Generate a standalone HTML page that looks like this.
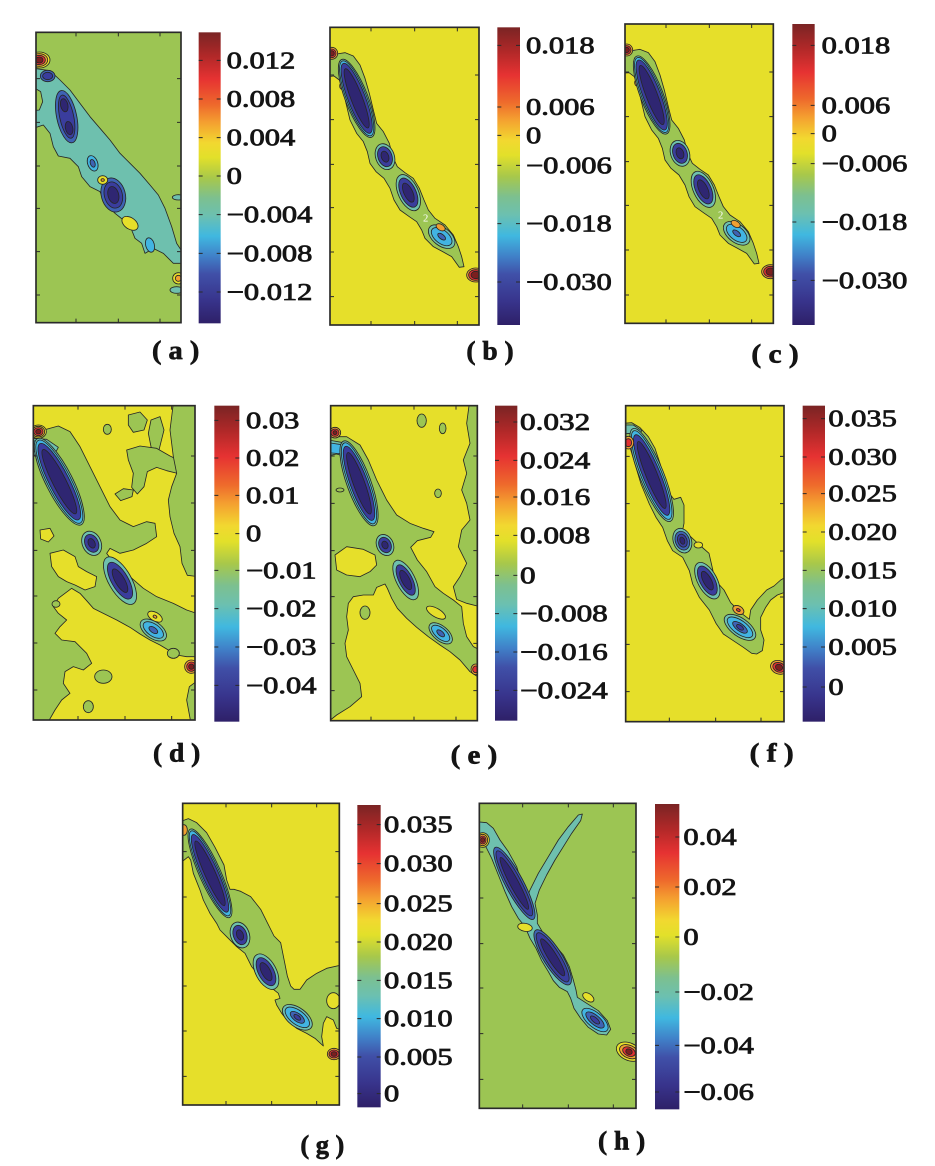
<!DOCTYPE html>
<html><head><meta charset="utf-8">
<style>
html,body{margin:0;padding:0;background:#fff;}
svg{display:block;}
text{font-family:"Liberation Serif","Times New Roman",serif;fill:#141414;}
.lb{font-size:72px;stroke:#141414;stroke-width:2.4px;}
.pl{font-size:78px;stroke:#141414;stroke-width:2px;font-weight:bold;}
.p polygon,.p ellipse,.p path.c{stroke:#262626;stroke-width:2.5;stroke-linejoin:round;}
.Y{fill:#E6DF2A}.G{fill:#9CC553}.T{fill:#6EC0AE}.L{fill:#42B4E2}.B{fill:#3E63B4}.D{fill:#3A3D9D}.N{fill:#2F2672}.O{fill:#F0A032}.R{fill:#E13232}.K{fill:#7B1F1F}
.fr{fill:none;stroke:#2a2a2a;stroke-width:5;}
.tk{fill:none;stroke:#2a2a2a;stroke-width:3;}
</style></head><body>
<svg width="935" height="1166" viewBox="0 0 935 1166" xmlns="http://www.w3.org/2000/svg">
<defs>
<linearGradient id="cm" x1="0" y1="0" x2="0" y2="1">
<stop offset="0" stop-color="#7A2424"/>
<stop offset="0.08" stop-color="#B02828"/>
<stop offset="0.16" stop-color="#E63232"/>
<stop offset="0.25" stop-color="#EE6A2C"/>
<stop offset="0.31" stop-color="#F4A030"/>
<stop offset="0.38" stop-color="#F2D830"/>
<stop offset="0.43" stop-color="#E2E02A"/>
<stop offset="0.50" stop-color="#A8C84A"/>
<stop offset="0.57" stop-color="#7CC090"/>
<stop offset="0.63" stop-color="#6CC0B0"/>
<stop offset="0.70" stop-color="#40B8E0"/>
<stop offset="0.77" stop-color="#4080C8"/>
<stop offset="0.83" stop-color="#4050A8"/>
<stop offset="0.92" stop-color="#38348C"/>
<stop offset="1" stop-color="#2E2068"/>
</linearGradient>
<clipPath id="ca"><rect x="108" y="97" width="435" height="871"/></clipPath>
<clipPath id="cb"><rect x="60" y="82" width="447" height="893"/></clipPath>
<clipPath id="cc"><rect x="45" y="72" width="445" height="898"/></clipPath>
<clipPath id="cd"><rect x="100" y="47" width="485" height="943"/></clipPath>
<clipPath id="ce"><rect x="62" y="47" width="440" height="945"/></clipPath>
<clipPath id="cf"><rect x="47" y="47" width="475" height="948"/></clipPath>
<clipPath id="cg"><rect x="68" y="40" width="470" height="905"/></clipPath>
<clipPath id="ch"><rect x="88" y="40" width="470" height="915"/></clipPath>
</defs>

<!-- ================= (a) ================= -->
<g class="p" transform="translate(0,0) scale(0.333333)">
<g clip-path="url(#ca)">
<rect x="108" y="97" width="435" height="871" class="G"/>
<polygon class="T" points="100,205 150,212 180,240 210,270 240,310 270,350 300,385 330,420 360,460 390,490 420,520 450,555 475,585 495,625 515,680 530,730 550,760 550,790 520,790 490,760 460,745 435,760 425,730 405,715 395,690 370,660 345,640 315,610 300,575 270,560 245,530 235,500 210,475 175,468 160,440 150,400 130,375 100,385"/>
<polygon class="G" points="100,262 122,275 128,305 118,330 100,332"/>
<ellipse class="T" cx="535" cy="592" rx="18" ry="8"/>
<ellipse class="T" cx="530" cy="870" rx="20" ry="10"/>
<g transform="translate(143,228)"><ellipse class="B" rx="22" ry="17"/><ellipse class="D" rx="15" ry="11"/></g>
<g transform="translate(200,350) rotate(-12)"><ellipse class="B" rx="30" ry="80"/><ellipse class="D" rx="21" ry="66"/><ellipse class="N" cx="0" cy="-35" rx="11" ry="20"/><ellipse class="N" cx="0" cy="35" rx="11" ry="20"/></g>
<g transform="translate(278,490) rotate(-20)"><ellipse class="L" rx="15" ry="24"/><ellipse class="B" rx="7" ry="12"/></g>
<g transform="translate(340,585) rotate(-15)"><ellipse class="B" rx="36" ry="52"/><ellipse class="D" rx="27" ry="40"/><ellipse class="N" rx="16" ry="26"/></g>
<g transform="translate(450,735) rotate(-15)"><ellipse class="L" rx="13" ry="22"/></g>
<g transform="translate(118,180)"><ellipse class="Y" rx="32" ry="24"/><ellipse class="O" rx="25" ry="19"/><ellipse class="R" rx="18" ry="14"/><ellipse class="K" rx="11" ry="9"/></g>
<g transform="translate(308,540)"><ellipse class="Y" rx="15" ry="13"/><ellipse class="O" rx="5" ry="4"/></g>
<g transform="translate(390,670) rotate(35)"><ellipse class="Y" rx="27" ry="17"/></g>
<g transform="translate(535,835)"><ellipse class="Y" rx="17" ry="17"/><ellipse class="O" rx="9" ry="9"/></g>
</g>
<rect class="fr" x="108" y="97" width="435" height="871"/>
<path class="tk" d="M228,97v12M355,97v12M480,97v12M228,968v-12M355,968v-12M480,968v-12M108,236h12M108,367h12M108,498h12M108,625h12M108,755h12M108,885h12M543,236h-12M543,367h-12M543,498h-12M543,625h-12M543,755h-12M543,885h-12"/>
<rect x="596" y="97" width="66" height="873" fill="url(#cm)"/>
<path class="tk" d="M596,181h12M596,297h12M596,413h12M596,528h12M596,644h12M596,760h12M596,876h12M662,181h-12M662,297h-12M662,413h-12M662,528h-12M662,644h-12M662,760h-12M662,876h-12"/>
<text class="lb" transform="translate(680,205) scale(1.27,1)">0.012</text>
<text class="lb" transform="translate(680,321) scale(1.27,1)">0.008</text>
<text class="lb" transform="translate(680,437) scale(1.27,1)">0.004</text>
<text class="lb" transform="translate(680,552) scale(1.27,1)">0</text>
<text class="lb" transform="translate(680,668) scale(1.27,1)">−0.004</text>
<text class="lb" transform="translate(680,784) scale(1.27,1)">−0.008</text>
<text class="lb" transform="translate(680,900) scale(1.27,1)">−0.012</text>
<text class="pl" x="527" y="1077" text-anchor="middle" textLength="142" lengthAdjust="spacingAndGlyphs">( a )</text>
</g>

<!-- ================= (b) ================= -->
<g class="p" transform="translate(310,0) scale(0.333333)">
<g clip-path="url(#cb)">
<rect x="60" y="82" width="447" height="893" class="Y"/>
<polygon class="G" points="52,175 80,162 105,158 130,168 150,195 165,235 178,280 190,330 200,370 220,395 238,430 248,470 262,500 285,518 310,535 328,565 342,600 355,630 375,655 405,675 430,705 445,740 455,770 462,800 448,802 425,770 398,755 370,740 345,715 335,690 320,665 298,650 270,630 252,600 240,565 222,535 198,515 180,490 172,455 160,425 140,400 120,360 108,310 98,265 88,240 72,228 52,230"/>
<ellipse class="O" cx="96" cy="258" rx="7" ry="10"/>
<g transform="translate(140,295) rotate(-21)"><ellipse class="T" rx="34" ry="125"/><ellipse class="L" rx="30" ry="120"/><ellipse class="D" rx="26" ry="112"/><ellipse class="N" rx="17" ry="95"/></g>
<g transform="translate(225,470) rotate(-20)"><ellipse class="T" rx="28" ry="40"/><ellipse class="D" rx="21" ry="31"/><ellipse class="N" rx="11" ry="17"/></g>
<g transform="translate(295,578) rotate(-25)"><ellipse class="T" rx="30" ry="58"/><ellipse class="D" rx="23" ry="47"/><ellipse class="N" rx="13" ry="31"/></g>
<g transform="translate(395,710) rotate(38)"><ellipse class="T" rx="46" ry="27"/><ellipse class="L" rx="36" ry="20"/><ellipse class="B" rx="14" ry="7"/></g>
<g transform="translate(65,160)"><ellipse class="O" rx="18" ry="18"/><ellipse class="R" rx="13" ry="13"/><ellipse class="K" rx="8" ry="8"/></g>
<g transform="translate(497,825)"><ellipse class="O" rx="27" ry="21"/><ellipse class="R" rx="21" ry="16"/><ellipse class="K" rx="14" ry="11"/></g>
<g transform="translate(392,682) rotate(30)"><ellipse class="O" rx="15" ry="9"/></g>
<text x="347" y="665" font-size="32" text-anchor="middle" style="fill:#fff">2</text>
</g>
<rect class="fr" x="60" y="82" width="447" height="893"/>
<path class="tk" d="M183,82v12M314,82v12M442,82v12M183,975v-12M314,975v-12M442,975v-12M60,225h12M60,359h12M60,493h12M60,623h12M60,756h12M60,890h12M507,225h-12M507,359h-12M507,493h-12M507,623h-12M507,756h-12M507,890h-12"/>
<rect x="562" y="82" width="68" height="893" fill="url(#cm)"/>
<path class="tk" d="M562,136h12M562,321h12M562,406h12M562,496h12M562,671h12M562,846h12M630,136h-12M630,321h-12M630,406h-12M630,496h-12M630,671h-12M630,846h-12"/>
<text class="lb" transform="translate(648,160) scale(1.27,1)">0.018</text>
<text class="lb" transform="translate(648,345) scale(1.27,1)">0.006</text>
<text class="lb" transform="translate(648,430) scale(1.27,1)">0</text>
<text class="lb" transform="translate(648,520) scale(1.27,1)">−0.006</text>
<text class="lb" transform="translate(648,695) scale(1.27,1)">−0.018</text>
<text class="lb" transform="translate(648,870) scale(1.27,1)">−0.030</text>
<text class="pl" x="540" y="1079" text-anchor="middle" textLength="142" lengthAdjust="spacingAndGlyphs">( b )</text>
</g>

<!-- ================= (c) ================= -->
<g class="p" transform="translate(610,0) scale(0.333333)">
<g clip-path="url(#cc)">
<rect x="45" y="72" width="445" height="898" class="Y"/>
<g transform="translate(-15,-10)">
<polygon class="G" points="52,175 80,162 105,158 130,168 150,195 165,235 178,280 190,330 200,370 220,395 238,430 248,470 262,500 285,518 310,535 328,565 342,600 355,630 375,655 405,675 430,705 445,740 455,770 462,800 448,802 425,770 398,755 370,740 345,715 335,690 320,665 298,650 270,630 252,600 240,565 222,535 198,515 180,490 172,455 160,425 140,400 120,360 108,310 98,265 88,240 72,228 52,230"/>
<ellipse class="O" cx="96" cy="258" rx="7" ry="10"/>
<g transform="translate(140,295) rotate(-21)"><ellipse class="T" rx="34" ry="125"/><ellipse class="L" rx="30" ry="120"/><ellipse class="D" rx="26" ry="112"/><ellipse class="N" rx="17" ry="95"/></g>
<g transform="translate(225,470) rotate(-20)"><ellipse class="T" rx="28" ry="40"/><ellipse class="D" rx="21" ry="31"/><ellipse class="N" rx="11" ry="17"/></g>
<g transform="translate(295,578) rotate(-25)"><ellipse class="T" rx="30" ry="58"/><ellipse class="D" rx="23" ry="47"/><ellipse class="N" rx="13" ry="31"/></g>
<g transform="translate(395,710) rotate(38)"><ellipse class="T" rx="46" ry="27"/><ellipse class="L" rx="36" ry="20"/><ellipse class="B" rx="14" ry="7"/></g>
<g transform="translate(65,160)"><ellipse class="O" rx="18" ry="18"/><ellipse class="R" rx="13" ry="13"/><ellipse class="K" rx="8" ry="8"/></g>
<g transform="translate(497,825)"><ellipse class="O" rx="27" ry="21"/><ellipse class="R" rx="21" ry="16"/><ellipse class="K" rx="14" ry="11"/></g>
<g transform="translate(392,682) rotate(30)"><ellipse class="O" rx="15" ry="9"/></g>
<text x="347" y="665" font-size="32" text-anchor="middle" style="fill:#fff">2</text>
</g>
</g>
<rect class="fr" x="45" y="72" width="445" height="898"/>
<path class="tk" d="M168,72v12M298,72v12M425,72v12M168,970v-12M298,970v-12M425,970v-12M45,216h12M45,350h12M45,485h12M45,616h12M45,750h12M45,885h12M490,216h-12M490,350h-12M490,485h-12M490,616h-12M490,750h-12M490,885h-12"/>
<rect x="547" y="72" width="67" height="903" fill="url(#cm)"/>
<path class="tk" d="M547,136h12M547,316h12M547,401h12M547,491h12M547,666h12M547,841h12M614,136h-12M614,316h-12M614,401h-12M614,491h-12M614,666h-12M614,841h-12"/>
<text class="lb" transform="translate(635,160) scale(1.27,1)">0.018</text>
<text class="lb" transform="translate(635,340) scale(1.27,1)">0.006</text>
<text class="lb" transform="translate(635,425) scale(1.27,1)">0</text>
<text class="lb" transform="translate(635,515) scale(1.27,1)">−0.006</text>
<text class="lb" transform="translate(635,690) scale(1.27,1)">−0.018</text>
<text class="lb" transform="translate(635,865) scale(1.27,1)">−0.030</text>
<text class="pl" x="495" y="1087" text-anchor="middle" textLength="142" lengthAdjust="spacingAndGlyphs">( c )</text>
</g>

<!-- ================= (d) ================= -->
<g class="p" transform="translate(0,390) scale(0.333333)">
<g clip-path="url(#cd)">
<rect x="100" y="47" width="485" height="943" class="Y"/>
<polygon class="G" points="95,130 175,108 210,125 240,170 270,230 300,290 330,350 360,390 400,410 440,395 465,400 470,440 440,460 400,480 360,490 330,475 320,490 350,530 390,560 430,595 470,620 520,640 560,660 590,670 590,800 560,800 530,795 505,780 480,765 450,750 420,732 390,712 350,690 310,670 280,655 260,632 240,610 215,595 195,610 175,625 160,650 175,670 200,690 180,710 165,730 185,750 225,755 260,790 275,820 250,840 220,830 195,845 190,880 210,910 185,930 165,960 145,995 95,995"/>
<polygon class="Y" points="120,420 150,415 162,438 145,456 122,447"/>
<polygon class="Y" points="150,490 190,480 225,500 235,530 260,545 290,560 285,590 255,600 225,585 200,575 175,560 155,530"/>
<polygon class="G" points="385,75 420,66 442,90 432,120 400,127 385,105"/>
<polygon class="G" points="453,90 480,80 492,120 482,160 472,200 455,180 445,130"/>
<ellipse class="G" cx="322" cy="118" rx="12" ry="15"/>
<polygon class="G" points="380,180 420,168 470,175 510,198 545,215 562,240 540,252 500,242 470,232 442,245 432,290 412,312 395,292 400,250 385,210"/>
<polygon class="G" points="345,312 370,296 400,300 396,320 362,332"/>
<polygon class="G" points="520,40 595,40 595,560 562,556 546,520 540,470 522,430 510,380 505,330 515,290 530,250 520,200 510,120"/>
<ellipse class="G" cx="520" cy="790" rx="18" ry="15"/>
<ellipse class="G" cx="310" cy="860" rx="26" ry="20"/>
<ellipse class="G" cx="265" cy="950" rx="15" ry="18"/>
<polygon class="G" points="595,870 568,890 560,930 572,995 595,995"/>
<ellipse class="G" cx="168" cy="642" rx="12" ry="10"/>
<polygon class="T" points="95,145 140,148 175,172 160,200 125,188 95,198"/>
<polygon class="L" points="95,152 135,156 160,175 140,185 95,185"/>
<g transform="translate(178,275) rotate(-27)"><ellipse class="T" rx="40" ry="145"/><ellipse class="L" rx="35" ry="139"/><ellipse class="D" rx="30" ry="128"/><ellipse class="N" rx="20" ry="108"/></g>
<g transform="translate(275,460) rotate(-25)"><ellipse class="T" rx="28" ry="38"/><ellipse class="D" rx="20" ry="28"/><ellipse class="N" rx="10" ry="15"/></g>
<g transform="translate(360,572) rotate(-30)"><ellipse class="T" rx="34" ry="80"/><ellipse class="D" rx="25" ry="62"/><ellipse class="N" rx="14" ry="40"/></g>
<g transform="translate(460,720) rotate(35)"><ellipse class="T" rx="45" ry="25"/><ellipse class="L" rx="35" ry="18"/><ellipse class="B" rx="15" ry="8"/></g>
<g transform="translate(465,680) rotate(30)"><ellipse class="Y" rx="24" ry="13"/><ellipse class="O" rx="6" ry="4"/></g>
<g transform="translate(115,125)"><ellipse class="Y" rx="24" ry="20"/><ellipse class="O" rx="19" ry="16"/><ellipse class="R" rx="14" ry="12"/><ellipse class="K" rx="8" ry="7"/></g>
<g transform="translate(574,830)"><ellipse class="O" rx="20" ry="20"/><ellipse class="R" rx="14" ry="14"/><ellipse class="K" rx="8" ry="8"/></g>
</g>
<rect class="fr" x="100" y="47" width="485" height="943"/>
<path class="tk" d="M234,47v12M375,47v12M515,47v12M234,990v-12M375,990v-12M515,990v-12M100,198h12M100,339h12M100,481h12M100,618h12M100,759h12M100,900h12M585,198h-12M585,339h-12M585,481h-12M585,618h-12M585,759h-12M585,900h-12"/>
<rect x="643" y="47" width="75" height="948" fill="url(#cm)"/>
<path class="tk" d="M643,91h12M643,204h12M643,316h12M643,431h12M643,541h12M643,656h12M643,771h12M643,886h12M718,91h-12M718,204h-12M718,316h-12M718,431h-12M718,541h-12M718,656h-12M718,771h-12M718,886h-12"/>
<text class="lb" transform="translate(738,115) scale(1.27,1)">0.03</text>
<text class="lb" transform="translate(738,228) scale(1.27,1)">0.02</text>
<text class="lb" transform="translate(738,340) scale(1.27,1)">0.01</text>
<text class="lb" transform="translate(738,455) scale(1.27,1)">0</text>
<text class="lb" transform="translate(738,565) scale(1.27,1)">−0.01</text>
<text class="lb" transform="translate(738,680) scale(1.27,1)">−0.02</text>
<text class="lb" transform="translate(738,795) scale(1.27,1)">−0.03</text>
<text class="lb" transform="translate(738,910) scale(1.27,1)">−0.04</text>
<text class="pl" x="530" y="1114" text-anchor="middle" textLength="142" lengthAdjust="spacingAndGlyphs">( d )</text>
</g>

<!-- ================= (e) ================= -->
<g class="p" transform="translate(310,390) scale(0.333333)">
<g clip-path="url(#ce)">
<rect x="62" y="47" width="440" height="945" class="Y"/>
<polygon class="G" points="55,140 110,140 150,165 175,210 200,270 230,330 260,375 300,400 340,415 372,425 362,442 322,452 302,472 322,510 350,545 375,590 400,610 430,630 455,650 460,700 470,740 490,770 510,780 510,865 480,845 450,810 420,785 390,765 355,740 320,712 290,685 262,655 245,625 232,595 225,582 200,592 190,615 160,615 130,620 115,640 110,680 115,720 105,760 110,800 130,840 150,880 155,920 120,950 80,975 55,995"/>
<polygon class="Y" points="75,495 110,470 160,478 195,495 200,525 180,545 150,560 110,555 80,540"/>
<polygon class="G" points="478,40 510,40 510,650 470,640 440,628 430,590 450,560 470,520 445,470 455,420 480,390 470,340 455,300 470,250 460,210 480,160 470,100"/>
<ellipse class="G" cx="335" cy="92" rx="14" ry="20"/>
<ellipse class="G" cx="398" cy="115" rx="10" ry="16"/>
<ellipse class="G" cx="384" cy="310" rx="10" ry="13"/>
<ellipse class="G" cx="165" cy="668" rx="15" ry="20"/>
<ellipse class="G" cx="90" cy="300" rx="12" ry="6"/>
<g transform="translate(378,668) rotate(30)"><ellipse class="Y" rx="32" ry="13"/></g>
<polygon class="T" points="55,150 100,158 128,185 112,202 80,192 55,197"/>
<polygon class="L" points="55,158 95,164 115,185 100,192 55,188"/>
<g transform="translate(147,280) rotate(-20)"><ellipse class="T" rx="36" ry="135"/><ellipse class="L" rx="31" ry="129"/><ellipse class="D" rx="26" ry="118"/><ellipse class="N" rx="17" ry="98"/></g>
<g transform="translate(225,465) rotate(-25)"><ellipse class="T" rx="25" ry="33"/><ellipse class="D" rx="18" ry="24"/><ellipse class="N" rx="9" ry="12"/></g>
<g transform="translate(287,570) rotate(-27)"><ellipse class="T" rx="28" ry="65"/><ellipse class="D" rx="20" ry="50"/><ellipse class="N" rx="12" ry="32"/></g>
<g transform="translate(392,730) rotate(40)"><ellipse class="T" rx="42" ry="22"/><ellipse class="L" rx="33" ry="16"/><ellipse class="B" rx="14" ry="7"/></g>
<g transform="translate(75,128)"><ellipse class="O" rx="17" ry="16"/><ellipse class="R" rx="12" ry="11"/><ellipse class="K" rx="6" ry="6"/></g>
<g transform="translate(497,838)"><ellipse class="O" rx="14" ry="16"/><ellipse class="R" rx="9" ry="10"/></g>
</g>
<rect class="fr" x="62" y="47" width="440" height="945"/>
<path class="tk" d="M183,47v12M312,47v12M438,47v12M183,992v-12M312,992v-12M438,992v-12M62,198h12M62,340h12M62,482h12M62,620h12M62,760h12M62,902h12M502,198h-12M502,340h-12M502,482h-12M502,620h-12M502,760h-12M502,902h-12"/>
<rect x="555" y="47" width="67" height="945" fill="url(#cm)"/>
<path class="tk" d="M555,96h12M555,211h12M555,321h12M555,436h12M555,556h12M555,671h12M555,786h12M555,901h12M622,96h-12M622,211h-12M622,321h-12M622,436h-12M622,556h-12M622,671h-12M622,786h-12M622,901h-12"/>
<text class="lb" transform="translate(630,120) scale(1.3,1)">0.032</text>
<text class="lb" transform="translate(630,235) scale(1.3,1)">0.024</text>
<text class="lb" transform="translate(630,345) scale(1.3,1)">0.016</text>
<text class="lb" transform="translate(630,460) scale(1.3,1)">0.008</text>
<text class="lb" transform="translate(630,580) scale(1.3,1)">0</text>
<text class="lb" transform="translate(630,695) scale(1.3,1)">−0.008</text>
<text class="lb" transform="translate(630,810) scale(1.3,1)">−0.016</text>
<text class="lb" transform="translate(630,925) scale(1.3,1)">−0.024</text>
<text class="pl" x="492" y="1120" text-anchor="middle" textLength="140" lengthAdjust="spacingAndGlyphs">( e )</text>
</g>

<!-- ================= (f) ================= -->
<g class="p" transform="translate(610,390) scale(0.333333)">
<g clip-path="url(#cf)">
<rect x="47" y="47" width="475" height="948" class="Y"/>
<polygon class="G" points="40,100 65,98 90,113 115,140 135,175 150,220 165,270 178,310 192,328 212,322 222,345 222,400 218,420 242,440 272,468 297,490 305,525 315,570 342,600 362,638 392,668 418,688 422,660 442,630 470,600 492,588 512,570 530,560 530,605 502,615 482,630 467,652 452,682 452,720 462,750 457,782 440,792 425,790 400,772 370,752 340,732 318,700 298,660 268,622 248,582 238,542 218,502 188,482 172,452 158,412 138,382 118,342 93,282 78,232 63,182 53,152 40,148"/>
<polygon class="T" points="40,105 70,105 95,122 85,140 60,130 40,132"/>
<g transform="translate(125,255) rotate(-22)"><ellipse class="T" rx="36" ry="150"/><ellipse class="L" rx="31" ry="143"/><ellipse class="D" rx="26" ry="130"/><ellipse class="N" rx="17" ry="108"/></g>
<g transform="translate(217,452) rotate(-20)"><ellipse class="T" rx="27" ry="38"/><ellipse class="B" rx="21" ry="29"/><ellipse class="D" rx="14" ry="20"/><ellipse class="N" rx="7" ry="11"/></g>
<g transform="translate(292,572) rotate(-28)"><ellipse class="T" rx="29" ry="60"/><ellipse class="D" rx="22" ry="48"/><ellipse class="N" rx="12" ry="31"/></g>
<g transform="translate(390,712) rotate(36)"><ellipse class="T" rx="55" ry="27"/><ellipse class="L" rx="45" ry="20"/><ellipse class="B" rx="26" ry="11"/><ellipse class="D" rx="12" ry="6"/></g>
<g transform="translate(55,158)"><ellipse class="O" rx="16" ry="19"/><ellipse class="R" rx="10" ry="12"/></g>
<g transform="translate(507,832) rotate(20)"><ellipse class="O" rx="26" ry="20"/><ellipse class="R" rx="19" ry="14"/><ellipse class="K" rx="11" ry="9"/></g>
<g transform="translate(385,660) rotate(30)"><ellipse class="O" rx="18" ry="12"/><ellipse class="R" rx="6" ry="4"/></g>
<ellipse class="Y" cx="265" cy="465" rx="13" ry="9"/>
</g>
<rect class="fr" x="47" y="47" width="475" height="948"/>
<path class="tk" d="M178,47v12M317,47v12M453,47v12M178,995v-12M317,995v-12M453,995v-12M47,199h12M47,341h12M47,483h12M47,621h12M47,763h12M47,905h12M522,199h-12M522,341h-12M522,483h-12M522,621h-12M522,763h-12M522,905h-12"/>
<rect x="578" y="47" width="67" height="948" fill="url(#cm)"/>
<path class="tk" d="M578,86h12M578,201h12M578,311h12M578,426h12M578,541h12M578,656h12M578,771h12M578,891h12M645,86h-12M645,201h-12M645,311h-12M645,426h-12M645,541h-12M645,656h-12M645,771h-12M645,891h-12"/>
<text class="lb" transform="translate(655,110) scale(1.27,1)">0.035</text>
<text class="lb" transform="translate(655,225) scale(1.27,1)">0.030</text>
<text class="lb" transform="translate(655,335) scale(1.27,1)">0.025</text>
<text class="lb" transform="translate(655,450) scale(1.27,1)">0.020</text>
<text class="lb" transform="translate(655,565) scale(1.27,1)">0.015</text>
<text class="lb" transform="translate(655,680) scale(1.27,1)">0.010</text>
<text class="lb" transform="translate(655,795) scale(1.27,1)">0.005</text>
<text class="lb" transform="translate(655,915) scale(1.27,1)">0</text>
<text class="pl" x="485" y="1114" text-anchor="middle" textLength="132" lengthAdjust="spacingAndGlyphs">( f )</text>
</g>

<!-- ================= (g) ================= -->
<g class="p" transform="translate(160,790) scale(0.333333)">
<g clip-path="url(#cg)">
<rect x="68" y="40" width="470" height="905" class="Y"/>
<polygon class="G" points="60,95 85,86 110,98 140,128 165,172 192,225 200,270 210,298 222,298 242,304 272,320 302,358 322,398 342,438 362,458 372,508 382,558 392,588 402,598 420,598 440,570 470,550 500,535 545,525 545,720 530,715 520,690 500,680 490,700 485,740 490,768 465,745 440,730 410,715 385,695 365,670 350,645 345,630 360,625 355,610 330,590 300,560 275,530 255,490 230,470 200,440 180,420 170,400 150,370 130,330 120,300 100,250 92,210 85,200 60,220"/>
<ellipse class="Y" cx="520" cy="632" rx="20" ry="24"/>
<g transform="translate(150,250) rotate(-24)"><ellipse class="T" rx="32" ry="145"/><ellipse class="L" rx="28" ry="139"/><ellipse class="D" rx="24" ry="127"/><ellipse class="N" rx="16" ry="106"/></g>
<g transform="translate(240,435) rotate(-20)"><ellipse class="T" rx="28" ry="40"/><ellipse class="D" rx="20" ry="30"/><ellipse class="N" rx="10" ry="16"/></g>
<g transform="translate(318,545) rotate(-28)"><ellipse class="T" rx="31" ry="58"/><ellipse class="D" rx="23" ry="46"/><ellipse class="N" rx="13" ry="30"/></g>
<g transform="translate(412,682) rotate(37)"><ellipse class="T" rx="52" ry="28"/><ellipse class="L" rx="43" ry="21"/><ellipse class="B" rx="25" ry="12"/><ellipse class="D" rx="12" ry="6"/></g>
<ellipse class="O" cx="72" cy="120" rx="10" ry="16"/>
<g transform="translate(522,792)"><ellipse class="O" rx="20" ry="17"/><ellipse class="R" rx="15" ry="12"/><ellipse class="K" rx="9" ry="7"/></g>
</g>
<rect class="fr" x="68" y="40" width="470" height="905"/>
<path class="tk" d="M198,40v12M335,40v12M470,40v12M198,945v-12M335,945v-12M470,945v-12M68,185h12M68,321h12M68,456h12M68,588h12M68,723h12M68,859h12M538,185h-12M538,321h-12M538,456h-12M538,588h-12M538,723h-12M538,859h-12"/>
<rect x="592" y="45" width="70" height="907" fill="url(#cm)"/>
<path class="tk" d="M592,104h12M592,221h12M592,341h12M592,456h12M592,571h12M592,686h12M592,801h12M592,911h12M662,104h-12M662,221h-12M662,341h-12M662,456h-12M662,571h-12M662,686h-12M662,801h-12M662,911h-12"/>
<text class="lb" transform="translate(672,128) scale(1.27,1)">0.035</text>
<text class="lb" transform="translate(672,245) scale(1.27,1)">0.030</text>
<text class="lb" transform="translate(672,365) scale(1.27,1)">0.025</text>
<text class="lb" transform="translate(672,480) scale(1.27,1)">0.020</text>
<text class="lb" transform="translate(672,595) scale(1.27,1)">0.015</text>
<text class="lb" transform="translate(672,710) scale(1.27,1)">0.010</text>
<text class="lb" transform="translate(672,825) scale(1.27,1)">0.005</text>
<text class="lb" transform="translate(672,935) scale(1.27,1)">0</text>
<text class="pl" x="487" y="1090" text-anchor="middle" textLength="132" lengthAdjust="spacingAndGlyphs">( g )</text>
</g>

<!-- ================= (h) ================= -->
<g class="p" transform="translate(450,790) scale(0.333333)">
<g clip-path="url(#ch)">
<rect x="88" y="40" width="470" height="915" class="G"/>
<polygon class="T" points="80,95 110,98 130,115 150,150 175,185 200,230 215,280 228,330 240,300 265,250 295,200 325,150 355,110 385,75 397,72 392,92 365,130 340,170 315,210 290,255 268,300 255,340 262,375 262,400 280,430 312,462 340,495 358,530 370,570 378,600 382,622 410,640 445,662 472,692 482,718 470,735 445,732 415,712 392,685 372,655 362,625 352,605 328,592 310,572 295,545 275,512 258,475 240,445 225,410 205,385 185,350 165,305 145,255 125,205 105,165 80,155"/>
<g transform="translate(193,280) rotate(-28)"><ellipse class="B" rx="27" ry="122"/><ellipse class="D" rx="21" ry="110"/><ellipse class="N" rx="13" ry="88"/></g>
<g transform="translate(308,502) rotate(-32)"><ellipse class="B" rx="28" ry="96"/><ellipse class="D" rx="22" ry="86"/><ellipse class="N" rx="13" ry="65"/></g>
<g transform="translate(435,690) rotate(40)"><ellipse class="L" rx="48" ry="22"/><ellipse class="B" rx="34" ry="14"/><ellipse class="D" rx="17" ry="7"/></g>
<g transform="translate(225,412) rotate(10)"><ellipse class="Y" rx="22" ry="12"/></g>
<g transform="translate(415,622) rotate(35)"><ellipse class="Y" rx="19" ry="11"/></g>
<g transform="translate(98,150)"><ellipse class="Y" rx="20" ry="22"/><ellipse class="O" rx="15" ry="17"/><ellipse class="R" rx="10" ry="12"/><ellipse class="K" rx="6" ry="7"/></g>
<g transform="translate(537,785) rotate(25)"><ellipse class="Y" rx="40" ry="26"/><ellipse class="O" rx="30" ry="19"/><ellipse class="R" rx="20" ry="13"/><ellipse class="K" rx="10" ry="8"/></g>
</g>
<rect class="fr" x="88" y="40" width="470" height="915"/>
<path class="tk" d="M218,40v12M355,40v12M490,40v12M218,955v-12M355,955v-12M490,955v-12M88,186h12M88,324h12M88,461h12M88,594h12M88,731h12M88,868h12M558,186h-12M558,324h-12M558,461h-12M558,594h-12M558,731h-12M558,868h-12"/>
<rect x="615" y="42" width="73" height="916" fill="url(#cm)"/>
<path class="tk" d="M615,141h12M615,291h12M615,441h12M615,606h12M615,766h12M615,906h12M688,141h-12M688,291h-12M688,441h-12M688,606h-12M688,766h-12M688,906h-12"/>
<text class="lb" transform="translate(700,165) scale(1.27,1)">0.04</text>
<text class="lb" transform="translate(700,315) scale(1.27,1)">0.02</text>
<text class="lb" transform="translate(700,465) scale(1.27,1)">0</text>
<text class="lb" transform="translate(700,630) scale(1.27,1)">−0.02</text>
<text class="lb" transform="translate(700,790) scale(1.27,1)">−0.04</text>
<text class="lb" transform="translate(700,930) scale(1.27,1)">−0.06</text>
<text class="pl" x="515" y="1078" text-anchor="middle" textLength="142" lengthAdjust="spacingAndGlyphs">( h )</text>
</g>
</svg>
</body></html>
